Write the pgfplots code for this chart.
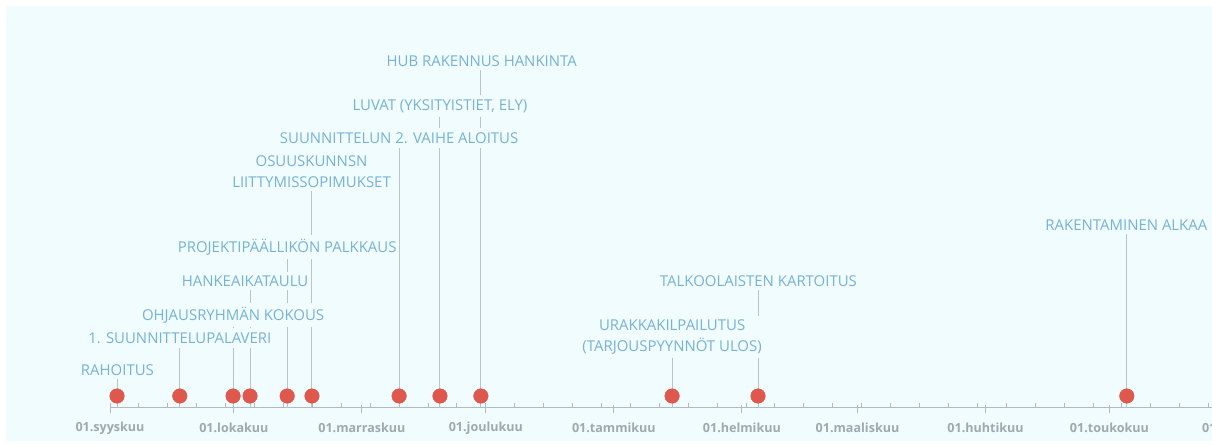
\documentclass[border=0pt]{standalone}
\usepackage{pgfplots}
\usepackage{pgfplotstable}
\pgfplotsset{compat=1.18}
\usepackage{fontspec}
\setmainfont{Open Sans}
\definecolor{bg}{RGB}{240,252,253}
\definecolor{lbl}{RGB}{118,178,214}
\definecolor{lead}{RGB}{186,195,202}
\definecolor{axc}{RGB}{178,186,192}
\definecolor{tickc}{RGB}{160,168,176}
\definecolor{dotc}{RGB}{222,88,78}
\tikzset{lblnode/.style={font=\fontsize{15}{20.5}\selectfont, text=lbl, fill=bg, align=center, inner xsep=3bp, inner ysep=4bp}}

% day index (1 Sep = 0), top of leader line, dot height
\pgfplotstableread{
d     ytop  ydot
1.7   38    12
16.9  70    12
29.8  93    12
33.9  127   12
42.9  161   12
48.9  236   12
70.0  270   12
79.9  302   12
89.8  347   12
136.1 71    12
156.9 127   12
246.2 183   12
}\events

\begin{document}
\begin{tikzpicture}
\begin{axis}[
  set layers,
  x=4.13bp, y=1bp,
  xmin=0, xmax=285, ymin=-38, ymax=408,
  axis x line*=middle, axis y line=none,
  clip=false,
  axis line style={draw=axc, line width=1bp},
  xtick={0,30,61,91,122,153,181,212,242,273},
  xticklabels={01.syyskuu,01.lokakuu,01.marraskuu,01.joulukuu,01.tammikuu,01.helmikuu,01.maaliskuu,01.huhtikuu,01.toukokuu,01.kesäkuu},
  minor xtick={0,7,...,280},
  tick align=center,
  major tick length=8bp, minor tick length=5bp,
  every tick/.style={draw=axc, line width=0.9bp},
  every major tick/.append style={yshift=-1bp},
  every minor tick/.append style={yshift=2.5bp},
  xticklabel style={font=\bfseries\fontsize{12.6}{14}\selectfont, text=tickc, anchor=center, yshift=-16bp},
]
\begin{pgfonlayer}{axis background}
\fill[bg] (axis cs:-25.18,-33) rectangle (axis cs:266.83,402);
\end{pgfonlayer}

\addplot[ycomb, draw=lead, line width=1bp, mark=none] table[x=d, y=ytop] {\events};
\addplot[only marks, mark=*, mark size=7.3bp, mark options={draw=dotc, fill=dotc}] table[x=d, y=ydot] {\events};

\begin{pgfonlayer}{axis foreground}
\node[lblnode] at (axis cs:1.8,38) {RAHOITUS};
\node[lblnode] at (axis cs:16.9,70) {1. SUUNNITTELUPALAVERI};
\node[lblnode] at (axis cs:29.8,93) {OHJAUSRYHMÄN KOKOUS};
\node[lblnode] at (axis cs:32.7,127) {HANKEAIKATAULU};
\node[lblnode] at (axis cs:42.9,161) {PROJEKTIPÄÄLLIKÖN PALKKAUS};
\node[lblnode] at (axis cs:48.8,236.5) {OSUUSKUNNSN\\LIITTYMISSOPIMUKSET};
\node[lblnode] at (axis cs:70.0,270) {SUUNNITTELUN 2. VAIHE ALOITUS};
\node[lblnode] at (axis cs:79.9,302) {LUVAT (YKSITYISTIET, ELY)};
\node[lblnode] at (axis cs:90.0,347) {HUB RAKENNUS HANKINTA};
\node[lblnode] at (axis cs:136.1,71) {URAKKAKILPAILUTUS\\(TARJOUSPYYNNÖT ULOS)};
\node[lblnode] at (axis cs:157.0,127) {TALKOOLAISTEN KARTOITUS};
\node[lblnode] at (axis cs:246.1,183) {RAKENTAMINEN ALKAA};
\end{pgfonlayer}
\end{axis}
\pgfresetboundingbox
\useasboundingbox (-110bp,0bp) rectangle (1102bp,446bp);
\end{tikzpicture}
\end{document}
